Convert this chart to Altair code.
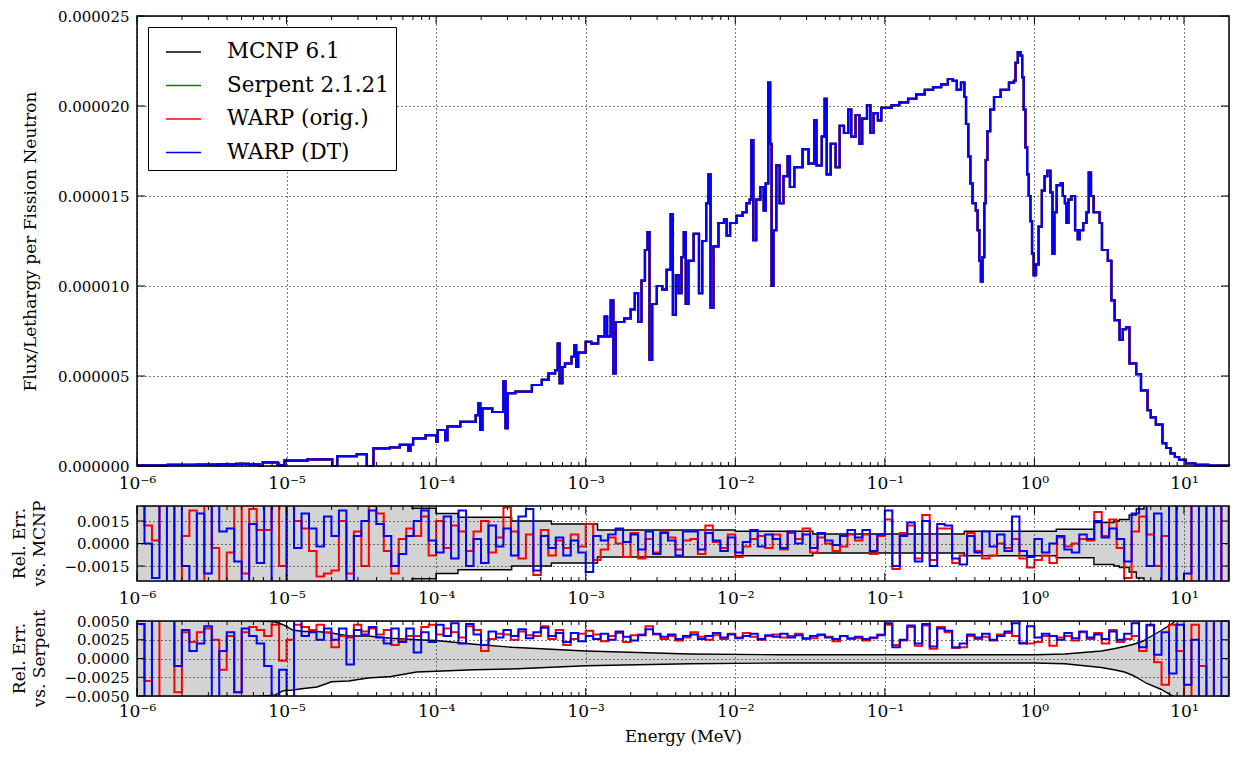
import altair as alt
import pandas as pd

FONT = "DejaVu Serif"

# ---------------- data ----------------
SERIES = ["MCNP 6.1", "Serpent 2.1.21", "WARP (orig.)", "WARP (DT)"]
SERIES_COLORS = ["#000000", "#008000", "#ff0000", "#0000ff"]

# flux/lethargy spectrum: energy (MeV) and value (units of 1e-6)
FLUX_ENERGY = [
    1.0e-6, 1.6e-6, 2.5e-6, 3.5e-6, 4.6e-6, 5.6e-6, 6.59e-6, 6.93e-6, 8.71e-6, 9.66e-6,
    1.38e-5, 2.02e-5, 2.18e-5, 2.95e-5, 3.44e-5, 3.81e-5, 4.91e-5, 5.72e-5, 6.50e-5, 6.73e-5,
    7.01e-5, 8.5e-5, 1.00e-4, 1.026e-4, 1.15e-4, 1.19e-4, 1.45e-4, 1.84e-4, 1.92e-4, 1.97e-4,
    2.04e-4, 2.37e-4, 2.81e-4, 2.91e-4, 3.01e-4, 3.39e-4, 4.37e-4, 5.09e-4, 5.64e-4, 6.24e-4,
    6.50e-4, 6.70e-4, 6.98e-4, 7.27e-4, 8.04e-4, 8.38e-4, 8.63e-4, 8.90e-4, 1.00e-3, 1.09e-3,
    1.21e-3, 1.34e-3, 1.39e-3, 1.47e-3, 1.53e-3, 1.59e-3, 1.81e-3, 2.00e-3, 2.13e-3, 2.24e-3,
    2.36e-3, 2.49e-3, 2.59e-3, 2.67e-3, 2.78e-3, 2.99e-3, 3.25e-3, 3.48e-3, 3.70e-3, 3.83e-3,
    4.01e-3, 4.18e-3, 4.37e-3, 4.53e-3, 4.67e-3, 4.86e-3, 5.27e-3, 5.72e-3, 6.01e-3, 6.39e-3,
    6.62e-3, 6.84e-3, 7.15e-3, 7.72e-3, 8.41e-3, 8.77e-3, 9.23e-3, 1.02e-2, 1.12e-2, 1.19e-2,
    1.25e-2, 1.28e-2, 1.32e-2, 1.38e-2, 1.47e-2, 1.55e-2, 1.60e-2, 1.66e-2, 1.71e-2, 1.75e-2,
    1.80e-2, 1.88e-2, 1.98e-2, 2.10e-2, 2.24e-2, 2.32e-2, 2.48e-2, 2.82e-2, 3.09e-2, 3.37e-2,
    3.49e-2, 3.79e-2, 3.96e-2, 4.09e-2, 4.35e-2, 4.69e-2, 4.99e-2, 5.33e-2, 5.69e-2, 5.96e-2,
    6.37e-2, 6.76e-2, 7.05e-2, 7.60e-2, 8.00e-2, 8.41e-2, 8.99e-2, 9.46e-2, 0.100, 0.111,
    0.125, 0.143, 0.162, 0.185, 0.210, 0.238, 0.264, 0.284, 0.303, 0.323,
    0.340, 0.349, 0.361, 0.373, 0.386, 0.406, 0.417, 0.428, 0.439, 0.450,
    0.462, 0.473, 0.485, 0.506, 0.537, 0.595, 0.676, 0.730, 0.748, 0.775,
    0.807, 0.828, 0.849, 0.871, 0.894, 0.917, 0.940, 0.964, 0.989, 1.025,
    1.067, 1.122, 1.17, 1.22, 1.28, 1.32, 1.36, 1.41, 1.50, 1.55,
    1.60, 1.64, 1.69, 1.77, 1.87, 1.95, 2.01, 2.12, 2.23, 2.31,
    2.39, 2.49, 2.73, 2.83, 3.10, 3.27, 3.44, 3.71, 3.90, 4.10,
    4.32, 4.79, 5.16, 5.71, 6.0, 6.49, 7.18, 7.6, 8.15, 8.7,
    9.27, 10.3, 11.9, 14.6, 20.0,
]
FLUX_VALUE_E6 = [
    0.03, 0.06, 0.08, 0.10, 0.12, 0.09, 0.0, 0.20, 0.05, 0.30,
    0.37, 0.0, 0.55, 0.66, 0.0, 0.98, 1.04, 1.17, 0.85, 1.17,
    1.54, 1.72, 1.35, 2.0, 1.44, 2.2, 2.45, 2.83, 3.5, 2.0,
    3.2, 3.0, 4.7, 2.1, 4.05, 4.13, 4.5, 4.78, 5.15, 5.33,
    6.8, 4.6, 5.5, 5.7, 6.07, 6.7, 5.5, 6.3, 6.9, 6.8,
    7.2, 8.3, 7.2, 9.2, 5.15, 8.0, 8.2, 8.7, 9.6, 8.0,
    10.3, 12.0, 13.0, 5.9, 9.0, 10.0, 9.8, 10.9, 14.0, 8.4,
    10.6, 9.6, 11.6, 13.0, 9.0, 11.4, 12.9, 9.6, 12.5, 14.6,
    16.2, 8.8, 12.2, 13.5, 13.7, 12.8, 13.5, 13.9, 14.1, 14.6,
    14.8, 18.1, 12.55, 14.8, 15.5, 14.2, 15.7, 21.3, 17.9, 10.0,
    13.1, 16.7, 14.6, 16.1, 17.2, 15.5, 16.6, 17.6, 16.8, 19.2,
    16.7, 18.3, 20.4, 16.2, 17.9, 16.6, 18.9, 18.5, 19.8, 18.3,
    19.5, 17.9, 19.3, 20.05, 18.5, 19.6, 19.2, 19.9, 19.9, 20.05,
    20.2, 20.4, 20.65, 20.9, 21.05, 21.2, 21.5, 21.4, 20.9, 21.3,
    20.5, 19.0, 17.2, 15.7, 14.6, 14.2, 13.1, 11.4, 10.24, 11.6,
    14.6, 17.0, 18.6, 19.8, 20.5, 20.9, 21.3, 21.4, 22.4, 23.0,
    22.8, 21.6, 19.8, 17.7, 16.2, 15.0, 13.6, 11.8, 10.6, 11.2,
    13.3, 15.3, 16.1, 16.4, 15.2, 11.8, 14.1, 15.6, 15.7, 15.0,
    14.6, 13.5, 14.8, 15.0, 13.1, 12.6, 13.1, 13.5, 14.1, 16.3,
    15.0, 14.1, 13.5, 12.0, 11.4, 9.2, 8.1, 7.0, 7.6, 7.7,
    5.7, 5.1, 4.2, 3.1, 2.7, 2.3, 1.27, 1.0, 0.7, 0.5,
    0.34, 0.15, 0.06, 0.02, 0.0,
]

# relative-error tally bins: 20 per decade, edges = mantissa x 10^decade
ERR_MANTISSA = [1.000, 1.122, 1.259, 1.413, 1.585, 1.778, 1.995, 2.239, 2.512, 2.818,
                3.162, 3.548, 3.981, 4.467, 5.012, 5.623, 6.310, 7.079, 7.943, 8.913]
ERR_DECADES = [-6, -5, -4, -3, -2, -1, 0, 1]

# relative error vs MCNP (units of 1e-3)
MCNP_ORIG = [
    3.0, 1.2, 0.2, 4.0, 3.0, -4.0, 0.5, 2.2, -4.0, 2.5, -0.3, -4.0, -0.6, 3.0, -2.0, 2.3, 0.9, 0.9, 3.0, -1.5,
    4.0, 1.5, 1.0, -0.5, -2.2, -2.0, -1.8, 1.5, -2.0, 0.8, -1.5, 2.5, 2.0, -0.5, -2.0, 0.3, 1.0, 0.5, 1.8, -0.8,
    1.5, -0.3, 1.2, 0.8, -0.5, 0.8, 1.5, -0.6, 0.4, 2.4, 0.8, -1.0, 0.6, -2.1, 0.9, -0.8, 0.2, -0.3, 0.6, -0.2,
    1.3, -1.1, -0.4, 0.4, 0.0, -0.9, 0.7, -1.0, 0.3, -0.6, 0.8, 0.4, -0.4, 0.2, 0.3, -0.7, 1.2, 0.1, -0.3, 0.6,
    -0.9, -0.2, 0.3, 0.5, -0.3, 0.6, -0.4, 0.7, 0.3, 1.0, -0.6, 0.4, 0.0, -0.5, -0.2, 0.6, 0.2, 0.6, -0.7, 0.5,
    1.6, -1.7, 0.7, 1.2, -1.0, 1.9, -1.1, 1.0, 1.0, -1.3, -0.8, 0.7, -0.5, -1.0, -0.8, 0.0, -0.3, 0.3, -1.0, -1.6,
    -1.1, -0.8, -1.3, 0.4, -0.2, 0.0, 0.3, 0.2, 2.1, 0.5, 1.6, -0.3, -2.3, 0.8, 1.8, 0.6, -1.5, 0.5, -3.0, 3.0,
    3.0, -3.0, -3.0, 3.0, 3.0, -3.0, 3.0,
]
MCNP_DT = [
    3.0, 0.0, -2.3, 4.0, -4.0, 4.0, -1.5, -4.0, 2.0, -2.0, 3.5, 0.8, 1.0, -1.2, -4.0, 1.3, -1.3, 3.0, -4.0, -4.0,
    4.0, -0.3, 2.0, 1.0, -0.2, 1.8, 0.5, 2.2, -2.5, 0.5, 1.5, 2.2, 1.3, 0.5, -1.5, -0.7, 0.5, 1.5, 2.2, 0.2,
    -0.6, 1.8, -1.0, 2.2, -1.5, 0.3, -1.3, 1.2, -0.2, 1.0, -0.8, 1.8, 2.3, -1.8, 0.5, -0.3, 0.4, -0.8, 0.2, -0.6,
    -1.9, 0.5, 0.2, 0.6, 1.0, 0.1, 0.6, -0.4, 0.8, -0.7, 0.7, 0.2, -0.8, 0.8, 0.8, -0.4, 0.7, 0.2, -0.5, 0.4,
    -0.6, 0.1, 0.9, -0.2, 0.6, 0.3, -0.3, 0.8, 0.0, 0.6, -0.3, 0.7, 0.2, -0.1, 0.5, 0.9, 0.4, 0.9, -0.5, 0.6,
    2.2, -1.5, 0.5, 1.4, -1.2, 1.5, -1.5, 1.3, 1.2, -1.0, -1.4, 0.5, -0.6, 0.8, -0.2, 0.6, -0.5, 1.8, -0.5, -0.9,
    0.3, -0.6, 0.0, 0.5, -0.4, -0.6, 0.6, 0.3, 1.5, 0.4, 1.0, 0.3, -1.2, 2.0, 2.7, -1.5, 2.0, -3.0, 3.0, -3.0,
    -2.0, 3.0, -3.0, 3.0, -3.0, 3.0, -3.0,
]
# relative error vs Serpent (units of 1e-3)
SERP_ORIG = [
    4.6, -3.0, -6.0, 6.0, 6.0, -4.5, 3.5, 2.2, 3.5, 4.0, 2.5, -1.5, 3.0, -4.5, 3.5, 4.2, 3.8, 3.0, 4.5, -0.3,
    2.5, 4.5, 4.2, 3.8, 4.5, 3.5, 1.5, 3.0, 2.8, 4.5, 3.6, 4.0, 3.2, 3.8, 1.8, 2.5, 3.0, 3.0, 4.2, 4.5,
    3.2, 4.0, 3.5, 2.8, 4.3, 3.8, 1.0, 2.6, 3.3, 3.2, 2.5, 3.6, 3.1, 3.0, 4.3, 2.6, 3.8, 1.8, 2.6, 3.3,
    3.7, 3.2, 2.3, 3.0, 3.4, 2.2, 3.1, 3.2, 4.3, 3.2, 2.6, 3.0, 2.4, 2.8, 3.5, 2.9, 2.5, 3.1, 2.6, 3.3,
    2.8, 3.4, 2.9, 2.5, 3.0, 3.2, 2.8, 3.0, 3.3, 2.6, 2.7, 3.1, 2.9, 2.3, 3.0, 2.6, 2.7, 2.4, 2.7, 3.2,
    4.5, 1.8, 2.4, 4.2, 1.7, 4.4, 1.3, 4.2, 3.5, 1.4, 1.5, 3.0, 2.6, 2.9, 2.4, 3.2, 3.4, 3.0, 2.1, 2.0,
    2.2, 3.0, 1.7, 2.8, 3.0, 2.4, 3.5, 2.6, 3.4, 2.0, 3.8, 2.2, 2.6, 3.0, 1.0, 4.4, -0.5, -3.5, 4.5, 1.0,
    -5.5, 4.5, -1.0, -6.0, 6.0, 6.0, 6.0,
]
SERP_DT = [
    4.6, -6.0, 6.0, 6.0, 6.0, -1.0, 3.8, 1.0, 2.0, 4.3, -5.5, 1.0, 3.5, -4.5, 4.0, 3.0, 2.0, -1.0, -5.0, -1.5,
    -6.0, 6.0, 3.0, 3.5, 2.5, 4.0, 2.5, 4.0, -0.8, 3.8, 3.2, 4.2, 2.8, 2.0, 4.0, 2.2, 4.0, 0.8, 3.5, 2.2,
    4.5, 3.0, 4.7, 2.0, 4.6, 3.2, 1.8, 3.6, 2.8, 3.8, 3.0, 3.9, 2.7, 3.5, 4.1, 3.0, 3.4, 2.2, 3.4, 2.3,
    3.0, 2.6, 3.3, 2.5, 3.6, 2.9, 2.4, 3.1, 3.9, 3.3, 2.9, 3.2, 2.6, 3.0, 3.2, 2.6, 3.0, 3.4, 2.8, 3.2,
    2.7, 3.0, 3.3, 2.6, 3.1, 2.9, 3.3, 2.8, 3.1, 2.7, 3.0, 3.2, 2.8, 2.6, 3.0, 2.7, 2.9, 2.6, 2.8, 3.1,
    4.7, 1.5, 2.5, 4.4, 2.0, 4.6, 1.6, 4.0, 3.7, 1.5, 2.0, 3.2, 2.8, 3.3, 2.5, 3.0, 3.6, 4.7, 2.0, 4.3,
    2.8, 3.3, 3.0, 2.5, 3.4, 2.7, 3.6, 2.8, 3.2, 2.6, 3.6, 2.5, 3.3, 4.7, 1.5, 4.5, 0.5, 3.5, -2.0, 4.5,
    -3.5, 2.5, -6.0, 6.0, -6.0, 6.0, -6.0,
]

# MCNP statistical band (half width, units of 1e-3)
MCNP_BAND_E = [1e-6, 6.0e-5, 6.9e-5, 1.0e-4, 1.4e-4, 3.2e-4, 5.9e-4, 1.2e-3, 1.0e-2, 3.3e-2,
               0.34, 1.4, 2.5, 3.4, 3.7, 4.3, 4.8, 5.4, 6.0, 20.0]
MCNP_BAND_HW = [4.0, 2.6, 2.35, 2.0, 1.75, 1.5, 1.3, 0.9, 0.82, 0.63,
                0.82, 0.95, 1.4, 1.5, 1.6, 1.9, 2.3, 2.7, 4.0, 4.0]
# Serpent statistical band (units of 1e-3)
SERP_BAND_E = [1e-6, 8.3e-6, 9.5e-6, 1.1e-5, 1.3e-5, 1.6e-5, 2.0e-5, 2.6e-5, 3.5e-5, 5e-5,
               7.4e-5, 1e-4, 1.8e-4, 3.2e-4, 1e-3, 5e-3, 2e-2, 1.0, 1.6, 2.8,
               3.4, 4.0, 4.6, 5.3, 5.6, 7.0, 8.4, 9.5, 20.0]
SERP_BAND_HI = [6.0, 4.9, 4.5, 3.8, 3.6, 3.6, 3.4, 3.0, 3.0, 2.7,
                2.5, 2.4, 1.9, 1.5, 1.0, 0.6, 0.5, 0.5, 0.6, 1.0,
                1.3, 1.6, 1.9, 2.3, 2.6, 3.7, 4.7, 6.0, 6.0]
SERP_BAND_LO = [-6.0, -4.9, -4.3, -4.2, -4.0, -3.8, -3.1, -3.0, -2.6, -2.4,
                -1.8, -1.7, -1.5, -1.4, -0.96, -0.7, -0.6, -0.6, -0.7, -1.2,
                -1.5, -1.8, -2.3, -3.0, -3.3, -4.1, -5.0, -6.0, -6.0]

DECADE_TICKS = [1e-6, 1e-5, 1e-4, 1e-3, 1e-2, 1e-1, 1e0, 1e1]
MINOR_MANTISSA = [2, 3, 4, 5, 6, 7, 8, 9]
FLUX_TICKS = [0.0, 5e-6, 1e-5, 1.5e-5, 2e-5, 2.5e-5]
MCNP_TICKS = [-0.0015, 0.0, 0.0015]
SERP_TICKS = [-0.005, -0.0025, 0.0, 0.0025, 0.005]

TITLE_MCNP = ["Rel. Err.", "vs. MCNP"]
TITLE_SERP = ["Rel. Err.", "vs. Serpent"]

# ---------------- layout ----------------
W = 1092
H_TOP = 450
H_ERR = 75

X_SCALE = alt.Scale(type="log", domain=[1e-6, 20], nice=False)
Y_TOP = alt.Scale(domain=[0, 2.5e-5], nice=False, zero=False)
Y_MCNP = alt.Scale(domain=[-0.0025, 0.0025], nice=False, zero=False)
Y_SERP = alt.Scale(domain=[-0.005, 0.005], nice=False, zero=False)

SUP = "['\u2070','\u00b9','\u00b2','\u00b3','\u2074','\u2075','\u2076']"
LABEL_EXPR = ("'10' + (datum.value < 1 ? '\u207b' : '') + " + SUP +
              "[abs(round(log(datum.value) / LN10))]")


def x_axis(title=None):
    kw = dict(values=DECADE_TICKS, labelExpr=LABEL_EXPR, grid=True, gridDash=[1, 3],
              gridColor="black", gridOpacity=1, gridWidth=1, ticks=False, domain=False,
              labelFont=FONT, labelFontSize=17, labelColor="black", labelPadding=9,
              labelFlush=False, zindex=1)
    if title:
        kw.update(title=title, titleFont=FONT, titleFontSize=16.5, titleFontWeight="normal",
                  titleColor="black", titlePadding=9, labelPadding=7)
    else:
        kw.update(title=None)
    return alt.Axis(**kw)


def y_axis(values, fmt, title=None, pad=0):
    kw = dict(values=values, format=fmt, grid=True, gridDash=[1, 3], gridColor="black",
              gridOpacity=1, gridWidth=1, ticks=False, domain=False, labelFont=FONT,
              labelFontSize=15, labelColor="black", labelPadding=8, zindex=1)
    if title:
        kw.update(title=title, titleFont=FONT, titleFontSize=17, titleFontWeight="normal",
                  titleColor="black", titlePadding=pad)
    else:
        kw.update(title=None)
    return alt.Axis(**kw)


def decorations(h, yscale, yticks, xax, yax):
    major = pd.DataFrame({"E": DECADE_TICKS})
    minor = pd.DataFrame({"E": [m * 10.0 ** d for d in ERR_DECADES for m in MINOR_MANTISSA
                                if m * 10.0 ** d < 20]})
    layers = []
    for df, L in ((major, 8), (minor, 4)):
        for y0, y1 in ((0, L), (h, h - L)):
            layers.append(alt.Chart(df).mark_rule(color="black", strokeWidth=1).encode(
                x=alt.X("E:Q", scale=X_SCALE, axis=xax), y=alt.value(y0), y2=alt.value(y1)))
    yt = pd.DataFrame({"v": yticks})
    for x0, x1 in ((0, 8), (W, W - 8)):
        layers.append(alt.Chart(yt).mark_rule(color="black", strokeWidth=1).encode(
            y=alt.Y("v:Q", scale=yscale, axis=yax), x=alt.value(x0), x2=alt.value(x1)))
    layers.append(alt.Chart(pd.DataFrame({"f": [0]})).mark_rect(
        filled=False, stroke="black", strokeWidth=1.5).encode(
        x=alt.value(0), x2=alt.value(W), y=alt.value(0), y2=alt.value(h)))
    return layers


# ---------------- top panel ----------------
flux_df = pd.DataFrame([
    {"E": e, "v": v * 1e-6, "series": s}
    for s in SERIES for e, v in zip(FLUX_ENERGY, FLUX_VALUE_E6)
])
legend = alt.Legend(orient="top-left", offset=11, title=None, symbolType="stroke",
                    symbolSize=1225, symbolStrokeWidth=1.5, labelFont=FONT, labelFontSize=21.5,
                    labelColor="black", labelOffset=25, labelLimit=400, rowPadding=4.5,
                    padding=6.5, symbolOffset=10.5, strokeColor="black", fillColor="white")
color = alt.Color("series:N", scale=alt.Scale(domain=SERIES, range=SERIES_COLORS),
                  legend=legend)
XA_TOP = x_axis()
YA_TOP = y_axis(FLUX_TICKS, ".6f", "Flux/Lethargy per Fission Neutron", 18)
flux_layers = []
for s in SERIES:
    flux_layers.append(
        alt.Chart(flux_df).transform_filter(alt.datum.series == s)
        .mark_line(interpolate="step-after", strokeWidth=2.2)
        .encode(
            x=alt.X("E:Q", scale=X_SCALE, axis=XA_TOP),
            y=alt.Y("v:Q", scale=Y_TOP, axis=YA_TOP),
            color=color,
        )
    )
top = alt.layer(*flux_layers, *decorations(H_TOP, Y_TOP, FLUX_TICKS, XA_TOP, YA_TOP)).properties(
    width=W, height=H_TOP)

# ---------------- error panels ----------------
EDGES = [m * 10.0 ** d for d in ERR_DECADES for m in ERR_MANTISSA]


def err_frame(vals):
    n = len(vals)
    return pd.DataFrame({"E": EDGES[:n + 1], "v": [x * 1e-3 for x in vals] + [vals[-1] * 1e-3]})


def err_panel(orig, dt, band_df, band_interp, yscale, yticks, title_lines, xtitle=None):
    xa = x_axis(xtitle)
    ya = y_axis(yticks, ".4f")
    area = alt.Chart(band_df).mark_area(interpolate=band_interp, color="#d3d3d3", clip=True,
                                        opacity=1).encode(
        x=alt.X("E:Q", scale=X_SCALE, axis=xa),
        y=alt.Y("lo:Q", scale=yscale, axis=ya),
        y2="hi:Q",
    )
    hi = alt.Chart(band_df).mark_line(interpolate=band_interp, color="black", strokeWidth=1.4,
                                      clip=True).encode(
        x=alt.X("E:Q", scale=X_SCALE, axis=xa), y=alt.Y("hi:Q", scale=yscale, axis=ya))
    lo = alt.Chart(band_df).mark_line(interpolate=band_interp, color="black", strokeWidth=1.4,
                                      clip=True).encode(
        x=alt.X("E:Q", scale=X_SCALE, axis=xa), y=alt.Y("lo:Q", scale=yscale, axis=ya))
    lines = []
    for vals, col in ((orig, "#ff0000"), (dt, "#0000ff")):
        lines.append(alt.Chart(err_frame(vals)).mark_line(
            interpolate="step-after", color=col, strokeWidth=2.0, clip=True).encode(
            x=alt.X("E:Q", scale=X_SCALE, axis=xa), y=alt.Y("v:Q", scale=yscale, axis=ya)))
    # two-line y title, drawn as rotated text left of the tick labels
    titles = []
    for line, xpos in zip(title_lines, (-117.5, -97.0)):
        titles.append(alt.Chart(pd.DataFrame({"t": [line]})).mark_text(
            angle=270, font=FONT, fontSize=17, color="black", align="center",
            baseline="middle").encode(text="t:N", x=alt.value(xpos), y=alt.value(H_ERR / 2)))
    return alt.layer(area, hi, lo, *lines, *decorations(H_ERR, yscale, yticks, xa, ya),
                     *titles).properties(width=W, height=H_ERR)


mcnp_band = pd.DataFrame({"E": MCNP_BAND_E,
                          "hi": [h * 1e-3 for h in MCNP_BAND_HW],
                          "lo": [-h * 1e-3 for h in MCNP_BAND_HW]})
serp_band = pd.DataFrame({"E": SERP_BAND_E,
                          "hi": [h * 1e-3 for h in SERP_BAND_HI],
                          "lo": [h * 1e-3 for h in SERP_BAND_LO]})

mid = err_panel(MCNP_ORIG, MCNP_DT, mcnp_band, "step-after", Y_MCNP, MCNP_TICKS, TITLE_MCNP)
bot = err_panel(SERP_ORIG, SERP_DT, serp_band, "linear", Y_SERP, SERP_TICKS, TITLE_SERP,
                xtitle="Energy (MeV)")

chart = alt.vconcat(top, mid, bot, spacing=40, bounds="flush").properties(
    padding={"left": 1, "top": 0, "right": 0, "bottom": 4}
).configure_view(strokeWidth=0).configure(background="white")

chart.save("out.html", embed_options={"renderer": "svg", "actions": False})
